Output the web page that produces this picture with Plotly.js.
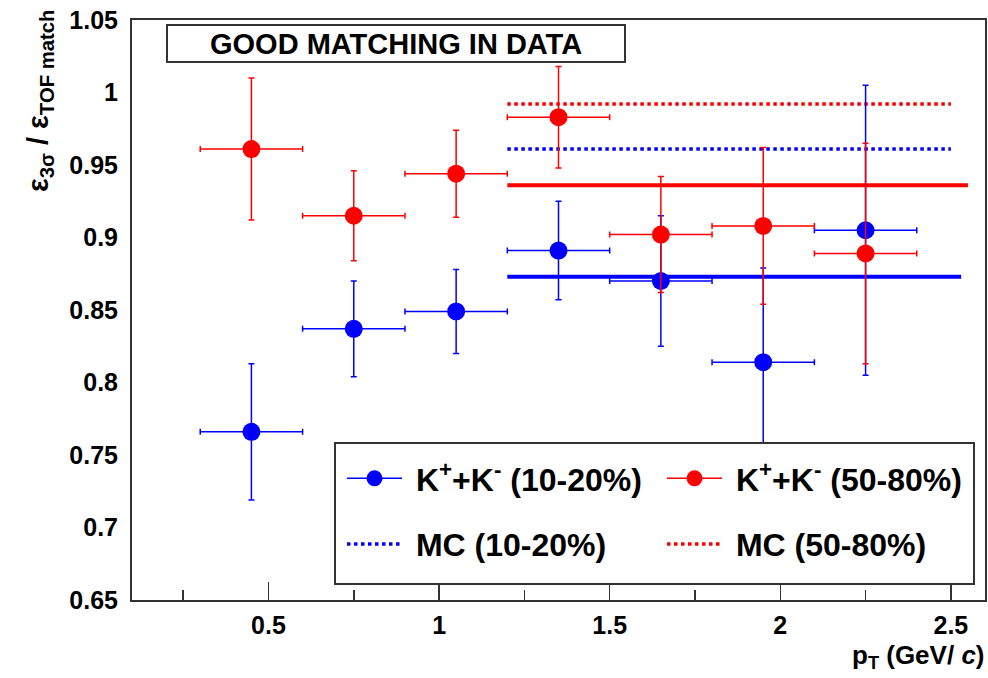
<!DOCTYPE html>
<html>
<head>
<meta charset="utf-8">
<script src="https://cdn.plot.ly/plotly-3.0.1.min.js"></script>
<style>html,body{margin:0;padding:0;background:#fff;}#chart{width:988px;height:678px;}</style>
</head>
<body>
<div id="chart"></div>
<script>
// ---- data ----
const ptBins = [0.45, 0.75, 1.05, 1.35, 1.65, 1.95, 2.25];
const ptHalfWidth = [0.15, 0.15, 0.15, 0.15, 0.15, 0.15, 0.15];
const ratioCentral = [0.766, 0.837, 0.849, 0.891, 0.870, 0.814, 0.905];
const errCentral = [0.047, 0.033, 0.029, 0.034, 0.045, 0.065, 0.100];
const ratioPeripheral = [0.961, 0.915, 0.944, 0.983, 0.902, 0.908, 0.889];
const errPeripheral = [0.049, 0.031, 0.030, 0.035, 0.040, 0.054, 0.076];
const mcRange = [1.2, 2.5];
const mcCentral = 0.961;
const mcPeripheral = 0.992;
const fitRangeCentral = [1.2, 2.53];
const fitRangePeripheral = [1.2, 2.55];
const fitCentral = 0.873;
const fitPeripheral = 0.936;
const xTickVals = [0.5, 1, 1.5, 2, 2.5];
const xTickText = ['0.5', '1', '1.5', '2', '2.5'];
const xMinorVals = [0.25, 0.75, 1.25, 1.75, 2.25];
const yTickVals = [0.65, 0.7, 0.75, 0.8, 0.85, 0.9, 0.95, 1, 1.05];
const yTickText = ['0.65', '0.7', '0.75', '0.8', '0.85', '0.9', '0.95', '1', '1.05'];
const labelCentral = '&nbsp;<b>K<sup>+</sup>+K<sup>-</sup> (10-20%)</b>';
const labelPeripheral = '&nbsp;<b>K<sup>+</sup>+K<sup>-</sup> (50-80%)</b>';
const labelMCCentral = '&nbsp;<b>MC (10-20%)</b>';
const labelMCPeripheral = '&nbsp;<b>MC (50-80%)</b>';

const BLUE = '#0000ff', RED = '#ff0000';
const L = 132, R = 985, T = 20, B = 600;
const px = v => (v - L) / (R - L);
const py = v => (B - v) / (B - T);
const FONT = 'Liberation Sans, Arial, sans-serif';

const traces = [
  {x: mcRange, y: mcRange.map(() => mcCentral), mode: 'lines', line: {color: BLUE, width: 3.5, dash: 'dot'}, showlegend: false, hoverinfo: 'skip'},
  {x: mcRange, y: mcRange.map(() => mcPeripheral), mode: 'lines', line: {color: RED, width: 3.5, dash: 'dot'}, showlegend: false, hoverinfo: 'skip'},
  {x: fitRangePeripheral, y: fitRangePeripheral.map(() => fitPeripheral), mode: 'lines', line: {color: RED, width: 4}, showlegend: false, hoverinfo: 'skip'},
  {x: fitRangeCentral, y: fitRangeCentral.map(() => fitCentral), mode: 'lines', line: {color: BLUE, width: 4}, showlegend: false, hoverinfo: 'skip'},
  {x: ptBins, y: ratioCentral, mode: 'markers', marker: {color: BLUE, size: 18},
   error_y: {type: 'data', array: errCentral, color: BLUE, thickness: 1.5, width: 3},
   error_x: {type: 'data', array: ptHalfWidth, color: BLUE, thickness: 1.5, width: 3}, showlegend: false},
  {x: ptBins, y: ratioPeripheral, mode: 'markers', marker: {color: RED, size: 18},
   error_y: {type: 'data', array: errPeripheral, color: RED, thickness: 1.5, width: 3},
   error_x: {type: 'data', array: ptHalfWidth, color: RED, thickness: 1.5, width: 3}, showlegend: false},
  // legend entries
  {x: [null], y: [null], name: labelCentral, mode: 'lines+markers', line: {color: BLUE, width: 1.5}, marker: {color: BLUE, size: 16}, legend: 'legend', legendgroup: 'a'},
  {x: [null], y: [null], name: labelMCCentral, mode: 'lines', line: {color: BLUE, width: 3.5, dash: 'dot'}, legend: 'legend', legendgroup: 'b'},
  {x: [null], y: [null], name: labelPeripheral, mode: 'lines+markers', line: {color: RED, width: 1.5}, marker: {color: RED, size: 16}, legend: 'legend2', legendgroup: 'c'},
  {x: [null], y: [null], name: labelMCPeripheral, mode: 'lines', line: {color: RED, width: 3.5, dash: 'dot'}, legend: 'legend2', legendgroup: 'd'}
];

const legendCommon = {
  orientation: 'v', xanchor: 'left', yanchor: 'top', bgcolor: 'rgba(0,0,0,0)', borderwidth: 0,
  font: {family: FONT, size: 32, color: '#000'}, itemwidth: 55, tracegroupgap: 21, traceorder: 'grouped'
};

const layout = {
  width: 988, height: 678,
  margin: {l: L, r: 988 - R, t: T, b: 678 - B},
  paper_bgcolor: '#fff', plot_bgcolor: '#fff',
  font: {family: FONT, color: '#000'},
  xaxis: {
    range: [0.1, 2.6], tickvals: xTickVals, ticktext: xTickText,
    ticks: 'inside', ticklen: 18, tickwidth: 1.5, tickcolor: '#333',
    minor: {tickvals: xMinorVals, ticks: 'inside', ticklen: 10, tickwidth: 1.5, tickcolor: '#333'},
    showline: true, linecolor: '#333', linewidth: 2, mirror: true, showgrid: false, zeroline: false,
    tickfont: {family: FONT, size: 25, color: '#000', weight: 'bold'}, ticklabelstandoff: 2
  },
  yaxis: {
    range: [0.65, 1.05], tickvals: yTickVals, ticktext: yTickText,
    ticks: '', showline: true, linecolor: '#333', linewidth: 2, mirror: true, showgrid: false, zeroline: false,
    tickfont: {family: FONT, size: 25, color: '#000', weight: 'bold'}, ticklabelstandoff: 7
  },
  showlegend: true,
  legend: Object.assign({}, legendCommon, {x: px(342), y: py(451)}),
  legend2: Object.assign({}, legendCommon, {x: px(662), y: py(451)}),
  shapes: [
    {type: 'rect', xref: 'paper', yref: 'paper', x0: px(335), x1: px(974), y0: py(584), y1: py(443),
     fillcolor: '#fff', line: {color: '#333', width: 2}, layer: 'above'},
    {type: 'rect', xref: 'paper', yref: 'paper', x0: px(167), x1: px(625), y0: py(62), y1: py(25),
     fillcolor: '#fff', line: {color: '#333', width: 2}, layer: 'above'}
  ],
  annotations: [
    {xref: 'paper', yref: 'paper', x: px(396), y: py(44), text: '<b>GOOD MATCHING IN DATA</b>', showarrow: false,
     xanchor: 'center', yanchor: 'middle', font: {family: FONT, size: 29, color: '#000'}},
    {xref: 'paper', yref: 'paper', x: px(987), y: py(656), text: '<b>p<sub>T</sub> (GeV/ <i>c</i>)</b>', showarrow: false,
     xanchor: 'right', yanchor: 'middle', font: {family: FONT, size: 26, color: '#000'}},
    {xref: 'paper', yref: 'paper', x: px(40), y: py(8), text: '<b>ε<sub>3σ</sub> / ε<sub>TOF match</sub></b>', showarrow: false,
     textangle: -90, xanchor: 'center', yanchor: 'top', font: {family: FONT, size: 29, color: '#000'}}
  ]
};

Plotly.newPlot('chart', traces, layout, {displayModeBar: false, staticPlot: true});
</script>
</body>
</html>
